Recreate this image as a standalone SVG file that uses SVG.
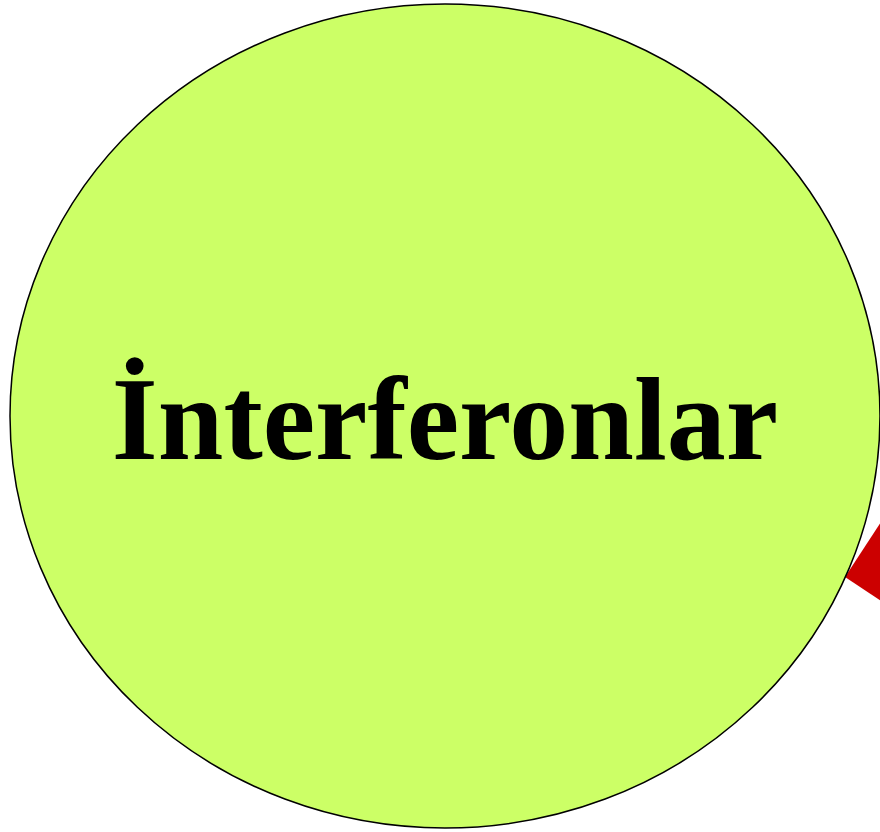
<svg xmlns="http://www.w3.org/2000/svg" width="880" height="832" viewBox="0 0 880 832">
<style>
.node{fill:#ccff66;stroke:#000;stroke-width:1.5}
.lbl{font-family:"Liberation Serif","Times New Roman",serif;font-weight:bold;font-size:118px;fill:#000}
.arrow{fill:#cc0000;stroke:none}
</style>
<g id="connectors">
<polygon class="arrow" points="845,577 881,522 881,601"/>
</g>
<g id="node-interferonlar">
<ellipse class="node" cx="445" cy="416" rx="435" ry="412"/>
<text class="lbl" x="445" y="459" text-anchor="middle">İnterferonlar</text>
</g>
</svg>
